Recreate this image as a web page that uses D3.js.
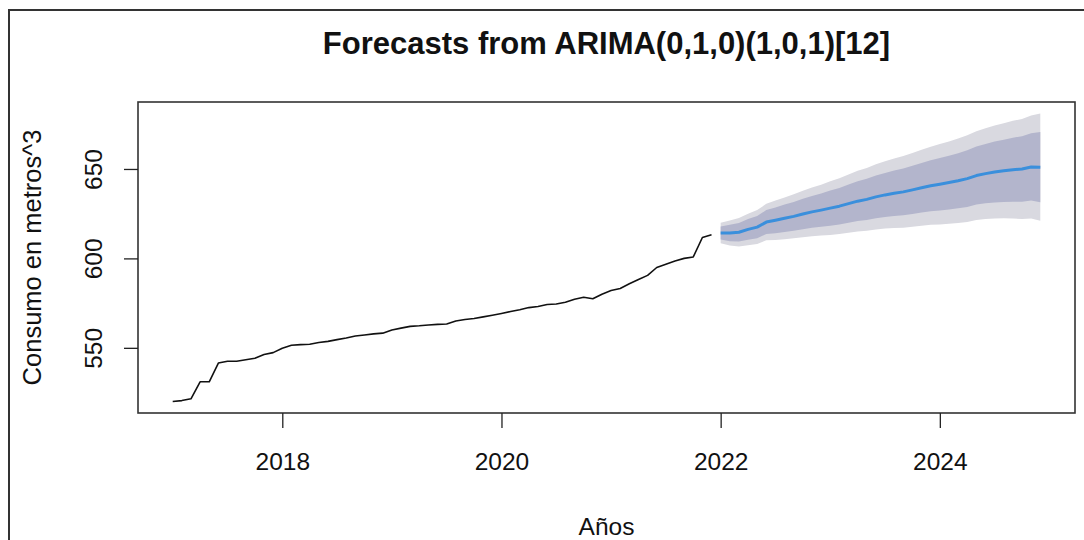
<!DOCTYPE html>
<html>
<head>
<meta charset="utf-8">
<script src="https://cdn.jsdelivr.net/npm/d3@7"></script>
<style>
  html, body { margin: 0; padding: 0; background: #fff; }
  svg text { font-family: "Liberation Sans", Arial, sans-serif; fill: #111; }
</style>
</head>
<body>
<svg id="chart" width="1084" height="540"></svg>
<script>
// Observed monthly consumption, Jan 2017 .. Dec 2021
const histStart = 2017;
const histValues = [
  520.0, 520.5, 521.5, 531.0, 531.0, 541.5, 542.5, 542.5, 543.3, 544.2, 546.3, 547.3,
  549.8, 551.4, 551.8, 552.0, 553.0, 553.6, 554.6, 555.5, 556.6, 557.2, 557.8, 558.2,
  560.0, 561.0, 562.0, 562.3, 562.8, 563.1, 563.3, 565.0, 565.8, 566.4, 567.3, 568.2,
  569.2, 570.3, 571.3, 572.5, 573.1, 574.2, 574.5, 575.5, 577.2, 578.3, 577.4, 580.0,
  582.0, 583.2, 585.8, 588.2, 590.5, 594.9, 596.7, 598.6, 600.0, 600.8, 611.7, 613.2
];

// Forecast, Jan 2022 .. Dec 2024
const fcStart = 2022;
const fcMean = [
  614.2, 614.2, 614.6, 616.2, 617.5, 620.3, 621.3, 622.4, 623.5, 624.8, 626.0, 627.0,
  628.1, 629.2, 630.6, 632.0, 633.0, 634.4, 635.5, 636.4, 637.2, 638.3, 639.5, 640.6,
  641.5, 642.4, 643.4, 644.6, 646.3, 647.4, 648.3, 649.0, 649.6, 650.0, 651.1, 651.0
];
const hi95 = [
  619.9, 621.2, 622.6, 625.0, 627.0, 630.5, 632.3, 634.1, 635.8, 637.8, 639.6, 641.2,
  643.1, 644.8, 646.9, 649.0, 650.6, 652.6, 654.3, 655.8, 657.2, 658.9, 660.7, 662.4,
  664.0, 665.4, 667.0, 668.8, 671.1, 672.8, 674.3, 675.6, 676.9, 678.0, 679.9, 681.0
];
const lo95 = [
  608.5, 607.2, 606.6, 607.4, 608.0, 610.1, 610.3, 610.7, 611.2, 611.8, 612.4, 612.8,
  613.1, 613.6, 614.3, 615.0, 615.4, 616.2, 616.7, 617.0, 617.2, 617.7, 618.3, 618.8,
  619.0, 619.4, 619.8, 620.4, 621.5, 622.0, 622.3, 622.4, 622.3, 622.0, 622.3, 621.0
];
const hi80 = [
  617.9, 618.8, 619.8, 622.0, 623.7, 627.0, 628.5, 630.1, 631.5, 633.3, 634.9, 636.3,
  637.9, 639.4, 641.3, 643.1, 644.5, 646.3, 647.8, 649.1, 650.3, 651.8, 653.4, 654.9,
  656.2, 657.4, 658.8, 660.4, 662.5, 664.0, 665.3, 666.4, 667.5, 668.3, 669.9, 670.6
];
const lo80 = [
  610.5, 609.6, 609.4, 610.4, 611.3, 613.6, 614.1, 614.7, 615.5, 616.3, 617.1, 617.7,
  618.3, 619.0, 619.9, 620.9, 621.5, 622.5, 623.2, 623.7, 624.1, 624.8, 625.6, 626.3,
  626.8, 627.4, 628.0, 628.8, 630.1, 630.8, 631.3, 631.6, 631.7, 631.7, 632.3, 631.4
];

const xTicks = [2018, 2020, 2022, 2024];
const yTicks = [550, 600, 650];

const titleText = "Forecasts from ARIMA(0,1,0)(1,0,1)[12]";
const xLabel = "Años";
const yLabel = "Consumo en metros^3";

const hist = histValues.map((v, i) => ({ t: histStart + i / 12, v }));
const fc = fcMean.map((v, i) => ({
  t: fcStart + i / 12, v, hi95: hi95[i], lo95: lo95[i], hi80: hi80[i], lo80: lo80[i]
}));

const svg = d3.select("#chart");

// Plot region
const plot = { left: 138, right: 1075, top: 102, bottom: 413 };

// Domains padded by 4% as in base graphics
const tMin = histStart, tMax = fcStart + (fcMean.length - 1) / 12;
const allV = histValues.concat(hi95, lo95);
const vMin = d3.min(allV), vMax = d3.max(allV);
const tPad = (tMax - tMin) * 0.04, vPad = (vMax - vMin) * 0.04;

const x = d3.scaleLinear().domain([tMin - tPad, tMax + tPad]).range([plot.left, plot.right]);
const y = d3.scaleLinear().domain([vMin - vPad, vMax + vPad]).range([plot.bottom, plot.top]);

// Outer figure frame
svg.append("path")
  .attr("d", `M9,540 V10 H1084`)
  .attr("fill", "none").attr("stroke", "#333").attr("stroke-width", 2);

// Prediction intervals
const area = (hiKey, loKey) => d3.area()
  .x(d => x(d.t)).y0(d => y(d[loKey])).y1(d => y(d[hiKey]))
  .curve(d3.curveLinear);

svg.append("path").datum(fc)
  .attr("d", area("hi95", "lo95"))
  .attr("fill", "#d9d9e0");
svg.append("path").datum(fc)
  .attr("d", area("hi80", "lo80"))
  .attr("fill", "#b3b5cc");

// Observed series
svg.append("path").datum(hist)
  .attr("d", d3.line().x(d => x(d.t)).y(d => y(d.v)))
  .attr("fill", "none").attr("stroke", "#111").attr("stroke-width", 1.6)
  .attr("stroke-linejoin", "round");

// Point forecasts
svg.append("path").datum(fc)
  .attr("d", d3.line().x(d => x(d.t)).y(d => y(d.v)))
  .attr("fill", "none").attr("stroke", "#3a8fdc").attr("stroke-width", 3)
  .attr("stroke-linejoin", "round");

// Plot box
svg.append("rect")
  .attr("x", plot.left).attr("y", plot.top)
  .attr("width", plot.right - plot.left).attr("height", plot.bottom - plot.top)
  .attr("fill", "none").attr("stroke", "#333").attr("stroke-width", 1.6);

// X axis
const xAxis = d3.axisBottom(x).tickValues(xTicks).tickFormat(d3.format("d")).tickSize(15);
const gx = svg.append("g").attr("transform", `translate(0,${plot.bottom})`).call(xAxis);
gx.select(".domain").remove();
gx.selectAll(".tick line").attr("stroke", "#222").attr("stroke-width", 1.3);
gx.selectAll(".tick text")
  .attr("y", 57).attr("dy", null)
  .style("font-size", "24.5px").attr("fill", "#222");

// Y axis with rotated labels
const yAxis = d3.axisLeft(y).tickValues(yTicks).tickSize(14).tickFormat(d3.format("d"));
const gy = svg.append("g").attr("transform", `translate(${plot.left},0)`).call(yAxis);
gy.select(".domain").remove();
gy.selectAll(".tick line").attr("stroke", "#222").attr("stroke-width", 1.3);
gy.selectAll(".tick text")
  .attr("x", null).attr("dy", null)
  .attr("transform", "translate(-36,0) rotate(-90)")
  .attr("text-anchor", "middle")
  .style("font-size", "24.5px").attr("fill", "#222");

// Title and axis titles
const cx = (plot.left + plot.right) / 2;
svg.append("text").attr("x", cx).attr("y", 54)
  .attr("text-anchor", "middle")
  .style("font-size", "31px").style("font-weight", "bold").text(titleText);

svg.append("text").attr("x", cx).attr("y", 535)
  .attr("text-anchor", "middle")
  .style("font-size", "24.5px").attr("fill", "#222").text(xLabel);

svg.append("text")
  .attr("transform", `translate(41,${(plot.top + plot.bottom) / 2}) rotate(-90)`)
  .attr("text-anchor", "middle")
  .style("font-size", "25.5px").attr("fill", "#222").text(yLabel);
</script>
</body>
</html>
